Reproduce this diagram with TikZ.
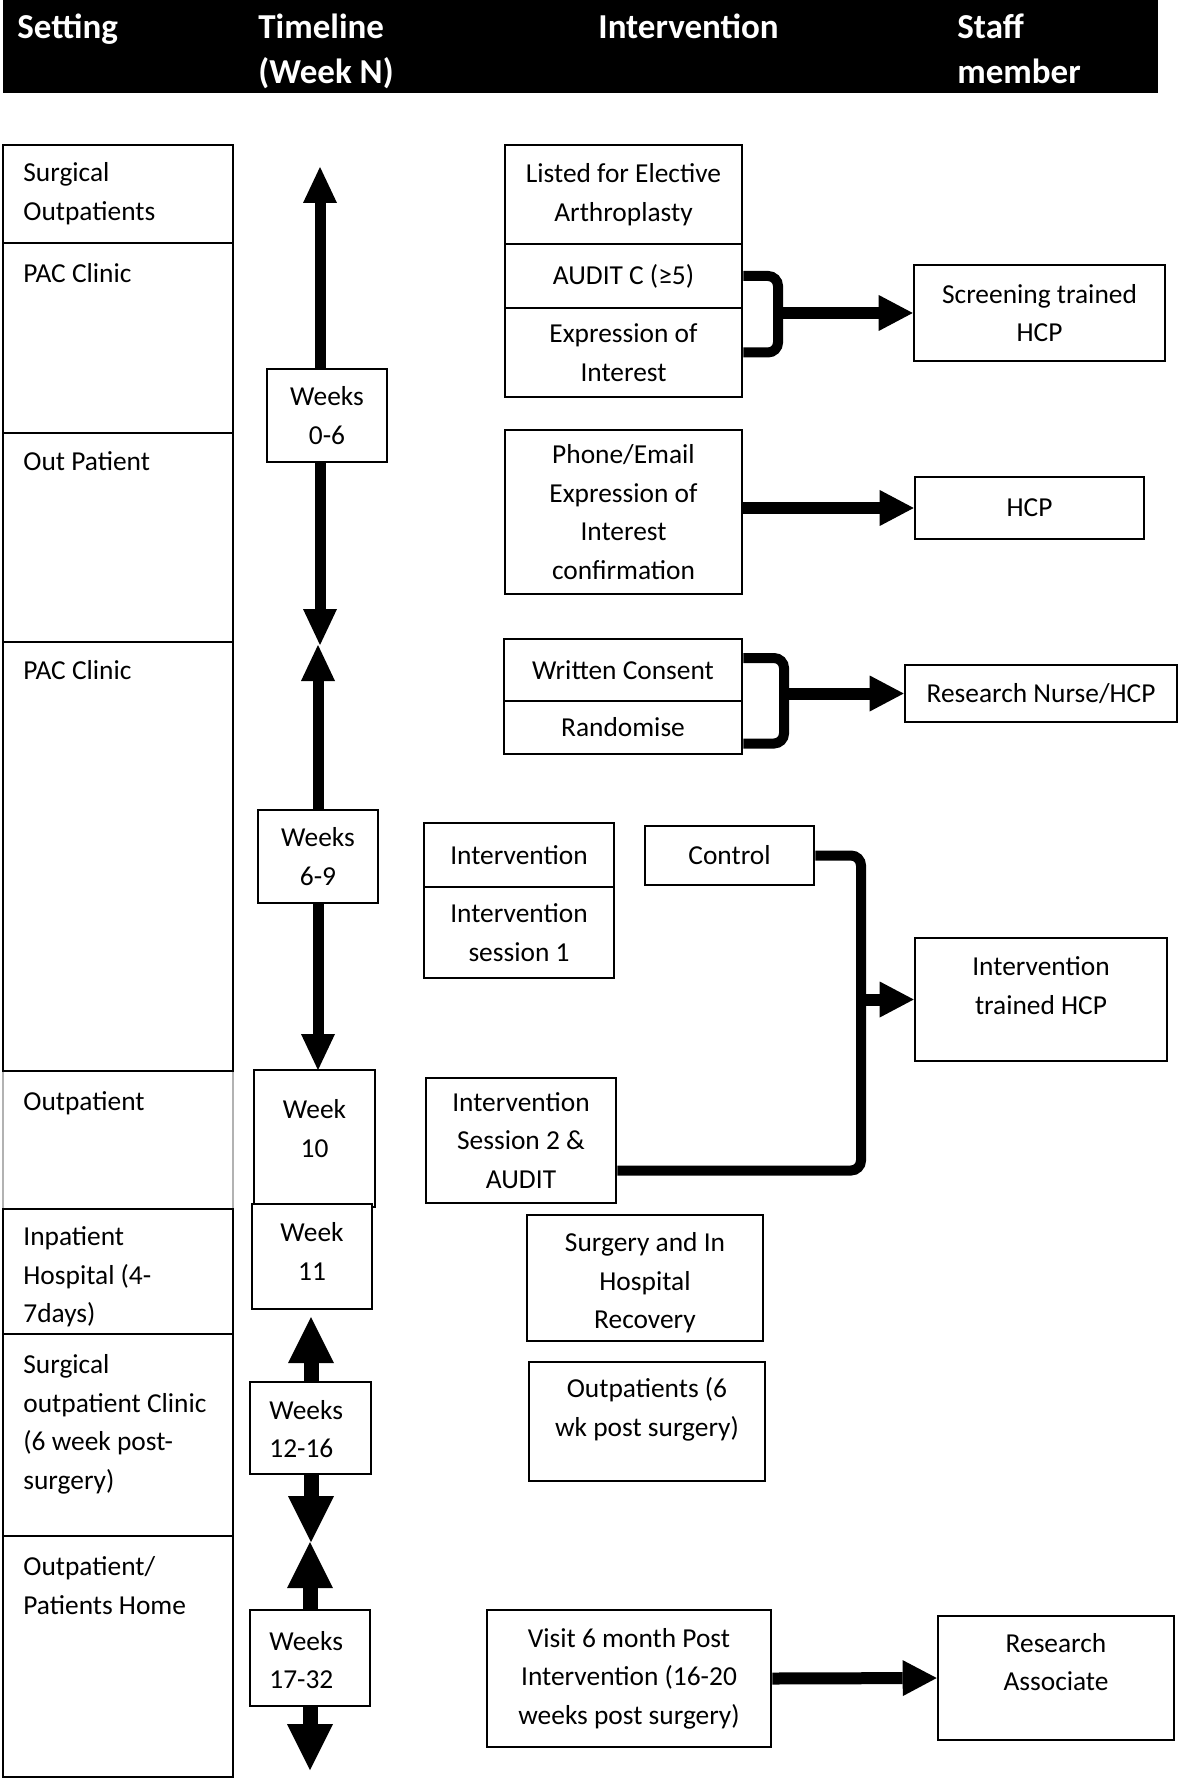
\documentclass[tikz,border=0pt]{standalone}
\usepackage{fontspec}
\setmainfont{Carlito}
\usetikzlibrary{arrows.meta}
\newcommand{\myBody}{\fontsize{13.7pt}{19.3pt}\selectfont}
\newcommand{\myHead}{\bfseries\fontsize{17.5pt}{22.5pt}\selectfont}
\begin{document}
\begin{tikzpicture}[x=0.5pt,y=-0.5pt,
  box/.style={draw,line width=1.3pt,fill=white,inner sep=1pt,align=center,font=\myBody},
  col/.style={draw,line width=1.4pt,inner sep=0pt,minimum width=115pt},
  txt/.style={inner sep=0pt,align=center,font=\myBody},
  stxt/.style={inner sep=0pt,align=left,font=\myBody,anchor=north west},
  htxt/.style={inner sep=0pt,align=left,font=\myHead,text=white,anchor=north west},
  vline/.style={line width=5.5pt,arrows={Triangle[length=18pt,width=17pt,line width=0pt]-Triangle[length=18pt,width=17pt,line width=0pt]}},
  vlineB/.style={line width=7.5pt,arrows={Triangle[length=23pt,width=23pt,line width=0pt]-Triangle[length=23pt,width=23pt,line width=0pt]}},
  harrow/.style={line width=6pt,arrows={-Triangle[length=17pt,width=18pt,line width=0pt]}},
  brk/.style={line width=5pt,rounded corners=5pt}
]
\useasboundingbox (0,0) rectangle (1181,1780);

% header
\node[fill=black,minimum width=577.5pt,minimum height=46.5pt,inner sep=0pt,anchor=north west] (hdr) at (3,0) {};
\node[htxt] (h1) at (17,6.5) {\strut Setting};
\node[htxt] (h2) at (258,6.5) {\strut Timeline\\(Week N)};
\node[htxt] (h3) at (598,6.5) {\strut Intervention};
\node[htxt] (h4) at (957,6.5) {\strut Staff\\member};

% setting column
\node[col,minimum height=49pt] (r1) at (118,194) {};
\node[col,minimum height=95pt] (r2) at (118,338) {};
\node[col,minimum height=104.5pt] (r3) at (118,537.5) {};
\node[draw=gray!60,line width=0.7pt,inner sep=0pt,minimum width=115pt,minimum height=69pt] (r5) at (118,1140) {};
\node[col,minimum height=214.5pt] (r4) at (118,856.5) {};
\node[col,minimum height=62.5pt] (r6) at (118,1271.5) {};
\node[col,minimum height=101pt] (r7) at (118,1435) {};
\node[col,minimum height=120.5pt] (r8) at (118,1656.5) {};

\node[stxt] (st1) at (23,154) {\strut Surgical\\Outpatients};
\node[stxt] (st2) at (23,255) {\strut PAC Clinic};
\node[stxt] (st3) at (23,443) {\strut Out Patient};
\node[stxt] (st4) at (23,652) {\strut PAC Clinic};
\node[stxt] (st5) at (23,1083) {\strut Outpatient};
\node[stxt] (st6) at (23,1218) {\strut Inpatient\\Hospital (4-\\7days)};
\node[stxt] (st7) at (23,1346) {\strut Surgical\\outpatient Clinic\\(6 week post-\\surgery)};
\node[stxt] (st8) at (23,1548) {\strut Outpatient/\\Patients Home};

% timeline arrows
\coordinate (a1t) at (320,167); \coordinate (a1b) at (320,645);
\coordinate (a2t) at (318,645); \coordinate (a2b) at (318,1070);
\coordinate (a3t) at (311,1317); \coordinate (a3b) at (311,1542);
\coordinate (a4t) at (310,1542); \coordinate (a4b) at (310,1770);
\draw[vline] (a1t) -- (a1b);
\draw[vline] (a2t) -- (a2b);
\draw[vlineB] (a3t) -- (a3b);
\draw[vlineB] (a4t) -- (a4b);

% timeline boxes
\node[box,minimum width=60pt,minimum height=46.5pt] (w06) at (327,415.5) {Weeks\\0-6};
\node[box,minimum width=60pt,minimum height=46.5pt] (w69) at (318,856.5) {Weeks\\6-9};
\node[box,minimum width=60.5pt,minimum height=68.5pt] (w10) at (314.5,1138.5) {};
\node[txt] (w10t) at ([yshift=5pt]w10.center) {Week\\10};
\node[box,minimum width=60pt,minimum height=52.5pt] (w11) at (312,1256.5) {};
\node[txt] (w11t) at ([yshift=2.5pt]w11.center) {Week\\11};
\node[box,minimum width=60.5pt,minimum height=46pt] (w1216) at (310.5,1428) {};
\node[txt,align=left,anchor=west] (w1216t) at (269,1429) {Weeks\\12-16};
\node[box,minimum width=60pt,minimum height=48pt] (w1732) at (310,1658) {};
\node[txt,align=left,anchor=west] (w1732t) at (269,1660) {Weeks\\17-32};

% intervention column
\node[box,minimum width=118.5pt,minimum height=49.5pt] (listed) at (623.5,194.5) {Listed for Elective\\Arthroplasty};
\node[box,minimum width=118.5pt,minimum height=32pt] (audit) at (623.5,276) {AUDIT C (≥5)};
\node[box,minimum width=118.5pt,minimum height=44.5pt] (expr) at (623.5,352.5) {Expression of\\Interest};
\node[box,minimum width=118.5pt,minimum height=82pt] (phone) at (623.5,512) {Phone/Email\\Expression of\\Interest\\confirmation};
\node[box,minimum width=119pt,minimum height=31pt] (wc) at (623,670) {Written Consent};
\node[box,minimum width=119pt,minimum height=26.5pt] (rand) at (623,727.5) {Randomise};
\node[box,minimum width=95pt,minimum height=32pt] (int) at (519,855) {Intervention};
\node[box,minimum width=95pt,minimum height=45.5pt] (ints1) at (519,932.5) {Intervention\\session 1};
\node[box,minimum width=84.5pt,minimum height=29.5pt] (ctrl) at (729.5,855.5) {Control};
\node[box,minimum width=95pt,minimum height=62.5pt] (s2) at (521,1140.5) {Intervention\\Session 2 \&\\AUDIT};
\node[box,minimum width=118pt,minimum height=63pt] (surg) at (645,1278) {};
\node[txt] (surgt) at ([yshift=-2.5pt]surg.center) {Surgery and In\\Hospital\\Recovery};
\node[box,minimum width=118pt,minimum height=59.5pt] (outp) at (647,1421.5) {};
\node[txt] (outpt) at ([yshift=6pt]outp.center) {Outpatients (6\\wk post surgery)};
\node[box,minimum width=142pt,minimum height=68.5pt] (visit) at (629,1678.5) {Visit 6 month Post\\Intervention (16-20\\weeks post surgery)};

% staff column
\node[box,minimum width=125.5pt,minimum height=48pt] (scr) at (1039.5,313) {Screening trained\\HCP};
\node[box,minimum width=114.5pt,minimum height=31pt] (hcp) at (1029.5,508) {HCP};
\node[box,minimum width=136pt,minimum height=28.5pt] (rn) at (1041,693.5) {Research Nurse/HCP};
\node[box,minimum width=126pt,minimum height=61.5pt] (ith) at (1041,999.5) {};
\node[txt] (itht) at ([yshift=7pt]ith.center) {Intervention\\trained HCP};
\node[box,minimum width=118pt,minimum height=62pt] (ra) at (1056,1678) {};
\node[txt] (rat) at ([yshift=8pt]ra.center) {Research\\Associate};

% connectors
\coordinate (b1x) at (778,0);
\draw[brk] (audit.east) -- (audit.east -| b1x) -- (expr.east -| b1x) -- (expr.east);
\draw[harrow] (b1x |- scr.west) -- (scr.west);

\draw[harrow] (phone.east |- hcp.west) -- (hcp.west);

\coordinate (b2x) at (784,0);
\coordinate (b2a) at ([yshift=6pt]wc.east);
\coordinate (b2b) at ([yshift=-8pt]rand.east);
\draw[brk] (b2a) -- (b2a -| b2x) -- (b2b -| b2x) -- (b2b);
\draw[harrow] (b2x |- rn.west) -- (rn.west);

\coordinate (b3x) at (861,0);
\coordinate (b3b) at ([yshift=-15pt]s2.east);
\draw[brk] (ctrl.east) -- (ctrl.east -| b3x) -- (b3b -| b3x) -- (b3b);
\draw[harrow] (b3x |- ith.west) -- (ith.west);

\draw[harrow] (visit.east) -- (ra.west);
\end{tikzpicture}
\end{document}
